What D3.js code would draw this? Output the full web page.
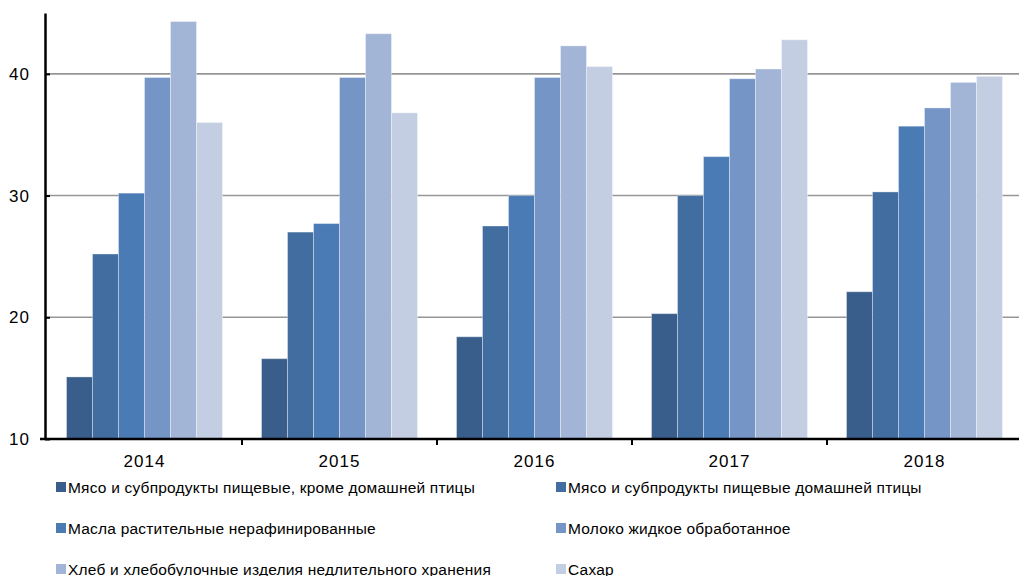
<!DOCTYPE html>
<html>
  <head>
    <meta charset="utf-8" />
    <title>Chart</title>
    <script src="https://d3js.org/d3.v7.min.js"></script>
    <style>
      body { margin: 0; background: #fff; }
      text { font-family: "Liberation Sans", Arial, sans-serif; fill: #000; }
    </style>
  </head>
  <body>
    <svg id="chart"></svg>
    <script>
      // data
      var years = ["2014", "2015", "2016", "2017", "2018"];
      var seriesNames = [
        "Мясо и субпродукты пищевые, кроме домашней птицы",
        "Мясо и субпродукты пищевые домашней птицы",
        "Масла растительные нерафинированные",
        "Молоко жидкое обработанное",
        "Хлеб и хлебобулочные изделия недлительного хранения",
        "Сахар"
      ];
      var meatOther = [15.1, 16.6, 18.4, 20.3, 22.1];
      var poultry   = [25.2, 27.0, 27.5, 30.0, 30.3];
      var oils      = [30.2, 27.7, 30.0, 33.2, 35.7];
      var milk      = [39.7, 39.7, 39.7, 39.6, 37.2];
      var bread     = [44.3, 43.3, 42.3, 40.4, 39.3];
      var sugar     = [36.0, 36.8, 40.6, 42.8, 39.8];
      var yTicks = [10, 20, 30, 40];

      var seriesValues = [meatOther, poultry, oils, milk, bread, sugar];
      var colors = ["#3a5e8c", "#426da0", "#4a7bb5", "#7595c6", "#a3b5d6", "#c4cee3"];

      var width = 1019, height = 576;
      var svg = d3.select("#chart")
                  .attr("width", width)
                  .attr("height", height);

      var x0 = d3.scaleBand()
                 .domain(years)
                 .range([47, 1022])
                 .padding(0);

      var x1 = d3.scaleBand()
                 .domain(d3.range(seriesNames.length))
                 .range([x0.bandwidth() * 0.1, x0.bandwidth() * 0.9])
                 .padding(0);

      var y = d3.scaleLinear()
                .domain([10, 45])
                .range([439, 13]);

      // grid lines
      svg.append("g")
         .selectAll("line")
         .data(yTicks.slice(1))
         .enter().append("line")
         .attr("x1", 45)
         .attr("x2", width)
         .attr("y1", function(d){ return y(d); })
         .attr("y2", function(d){ return y(d); })
         .attr("stroke", "#969696")
         .attr("stroke-width", 1.6);

      // bars
      var groups = svg.append("g")
                      .selectAll("g")
                      .data(years)
                      .enter().append("g")
                      .attr("transform", function(d){ return "translate(" + x0(d) + ",0)"; });

      groups.selectAll("rect")
            .data(function(d, i){
              return seriesValues.map(function(s, k){ return {k: k, v: s[i]}; });
            })
            .enter().append("rect")
            .attr("x", function(d){ return x1(d.k); })
            .attr("width", x1.bandwidth())
            .attr("y", function(d){ return y(d.v); })
            .attr("height", function(d){ return y(10) - y(d.v); })
            .attr("fill", function(d){ return colors[d.k]; })
            .attr("stroke", "#ffffff")
            .attr("stroke-opacity", 0.35)
            .attr("stroke-width", 1);

      // y axis
      var yAxis = svg.append("g")
                     .attr("transform", "translate(45,0)")
                     .call(d3.axisLeft(y).tickValues(yTicks).tickSize(6).tickSizeOuter(0));
      yAxis.select(".domain").attr("stroke", "#000").attr("stroke-width", 2.5);
      yAxis.selectAll(".tick line").attr("stroke", "#000").attr("stroke-width", 2).attr("x2", 5);
      yAxis.selectAll(".tick text")
           .attr("x", -15)
           .attr("font-size", 17)
           .attr("letter-spacing", 1)
           .attr("font-family", "Liberation Sans, Arial, sans-serif");

      // x axis
      var xAxis = svg.append("g")
                     .attr("transform", "translate(0," + y(10) + ")");
      xAxis.append("line")
           .attr("x1", 40)
           .attr("x2", width)
           .attr("stroke", "#000")
           .attr("stroke-width", 2.5);
      xAxis.selectAll(".xt")
           .data(years.slice(1))
           .enter().append("line")
           .attr("x1", function(d){ return x0(d); })
           .attr("x2", function(d){ return x0(d); })
           .attr("y1", 0)
           .attr("y2", 6)
           .attr("stroke", "#000")
           .attr("stroke-width", 2);
      xAxis.selectAll("text")
           .data(years)
           .enter().append("text")
           .attr("x", function(d){ return x0(d) + x0.bandwidth() / 2; })
           .attr("y", 28)
           .attr("text-anchor", "middle")
           .attr("font-size", 17)
           .attr("letter-spacing", 1)
           .text(function(d){ return d; });

      // legend
      var legend = svg.append("g")
                      .selectAll("g")
                      .data(seriesNames)
                      .enter().append("g")
                      .attr("transform", function(d, i){
                        return "translate(" + (i % 2 === 0 ? 56 : 556) + "," + (482 + Math.floor(i / 2) * 41) + ")";
                      });
      legend.append("rect")
            .attr("width", 10)
            .attr("height", 10)
            .attr("fill", function(d, i){ return colors[i]; });
      legend.append("text")
            .attr("x", 12)
            .attr("y", 10.5)
            .attr("font-size", 15.5)
            .attr("letter-spacing", 0.2)
            .text(function(d){ return d; });
    </script>
  </body>
</html>
